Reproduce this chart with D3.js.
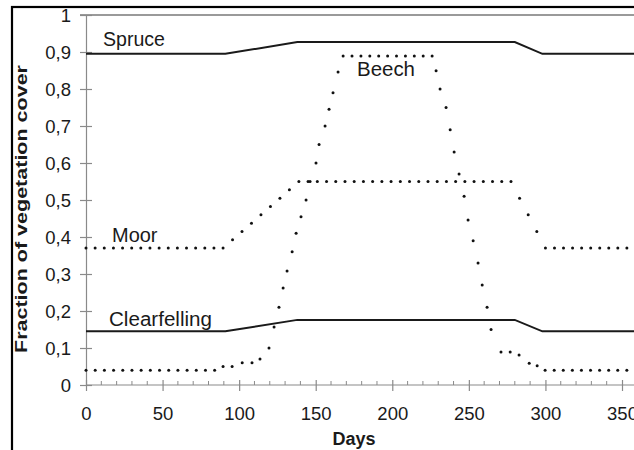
<!DOCTYPE html>
<html>
<head>
<meta charset="utf-8">
<script src="https://cdn.jsdelivr.net/npm/d3@7"></script>
<style>
  html, body { margin: 0; padding: 0; background: #fff; overflow: hidden; }
  svg { display: block; }
  text { font-family: "Liberation Sans", Arial, sans-serif; fill: #1a1a1a; }
</style>
</head>
<body>
<svg id="chart" width="634" height="450"></svg>
<script>
// ---- data (day, fraction of vegetation cover) ----
const spruce = [[0,0.895],[91,0.895],[138,0.927],[280,0.927],[298,0.895],[365,0.895]];
const clearfelling = [[0,0.145],[91,0.145],[138,0.176],[280,0.176],[298,0.145],[365,0.145]];
const moor = [[0,0.37],[89.5,0.37],[139,0.55],[277.5,0.55],[300,0.37],[365,0.37]];
const beech = [
  [0,0.04],[84,0.04],[89.5,0.05],[95.4,0.05],[102,0.06],[108.4,0.06],[113.6,0.07],
  [119.5,0.10],[122.8,0.157],[126,0.21],[128.7,0.262],[131.3,0.308],[134.6,0.36],
  [137.2,0.41],[140.4,0.455],[143.7,0.50],[146.3,0.55],[150.2,0.60],[152.2,0.65],
  [156.1,0.70],[158.7,0.745],[161.3,0.79],[164.6,0.846],[167.9,0.889],[226,0.889],
  [228.6,0.849],[231.2,0.80],[235.1,0.75],[237.8,0.69],[240.4,0.63],[243.6,0.57],
  [246.9,0.51],[249.5,0.446],[252.8,0.39],[256,0.33],[258.7,0.27],[261.9,0.21],
  [264.5,0.15],[271,0.089],[277,0.089],[282.8,0.081],[289.4,0.059],[294.6,0.052],
  [299.8,0.04],[365,0.04]
];
const xTicks = [0,50,100,150,200,250,300,350];
const yTicks = [0,0.1,0.2,0.3,0.4,0.5,0.6,0.7,0.8,0.9,1];
const yTickLabels = ["0","0,1","0,2","0,3","0,4","0,5","0,6","0,7","0,8","0,9","1"];
const seriesLabels = ["Spruce","Beech","Moor","Clearfelling"];
const xTitle = "Days";
const yTitle = "Fraction of vegetation cover";

// ---- layout ----
const svg = d3.select("#chart");
const x = d3.scaleLinear().domain([0, 350]).range([86, 622]);
const y = d3.scaleLinear().domain([0, 1]).range([385, 15]);
const axisGray = "#8a8a8a";

// outer frame (cropped figure: only top and left edges visible)
svg.append("rect").attr("x", 12).attr("y", 7).attr("width", 700).attr("height", 500)
  .attr("fill", "none").attr("stroke", "#000").attr("stroke-width", 2.2);

// top line at 1
svg.append("line").attr("x1", 80).attr("x2", 640).attr("y1", y(1)).attr("y2", y(1))
  .attr("stroke", "#9a9a9a").attr("stroke-width", 2);

// y axis
const yAxis = svg.append("g").attr("transform", `translate(${x(0)},0)`)
  .call(d3.axisLeft(y).tickValues(yTicks).tickSize(0).tickPadding(0)
    .tickFormat((d, i) => yTickLabels[i]));
yAxis.select(".domain").attr("stroke", axisGray).attr("stroke-width", 1.2);
yAxis.selectAll(".tick line").attr("x1", -6).attr("x2", 6).attr("stroke", axisGray).attr("stroke-width", 1.2);
yAxis.selectAll(".tick text").attr("x", -15).attr("dy", "0.33em")
  .attr("font-size", 18.5).attr("font-family", "Liberation Sans, Arial, sans-serif").attr("fill", "#1a1a1a");

// x axis
const xAxis = svg.append("g").attr("transform", `translate(0,${y(0)})`)
  .call(d3.axisBottom(x).tickValues(xTicks).tickSize(0).tickSizeOuter(0).tickFormat(d3.format("d")));
xAxis.select(".domain").attr("d", `M${x(0)},0H660`).attr("stroke", axisGray).attr("stroke-width", 1.2);
xAxis.selectAll(".tick line").attr("y1", -5).attr("y2", 6).attr("stroke", axisGray).attr("stroke-width", 1.2);
xAxis.selectAll(".tick text").attr("y", 35).attr("dy", null)
  .attr("font-size", 18.5).attr("font-family", "Liberation Sans, Arial, sans-serif").attr("fill", "#1a1a1a");
const minor = d3.range(10, 370, 10).filter(d => d % 50 !== 0);
xAxis.selectAll(".minor").data(minor).enter().append("line")
  .attr("x1", d => x(d)).attr("x2", d => x(d)).attr("y1", -4).attr("y2", 0)
  .attr("stroke", axisGray).attr("stroke-width", 1);

// axis titles
svg.append("text").attr("x", x(175)).attr("y", 445).attr("text-anchor", "middle")
  .attr("font-size", 18).attr("font-weight", "bold").text(xTitle);
svg.append("text").attr("transform", "translate(27,209) rotate(-90)").attr("text-anchor", "middle")
  .attr("font-size", 16.5).attr("font-weight", "bold")
  .attr("textLength", 288).attr("lengthAdjust", "spacingAndGlyphs").text(yTitle);

// solid series
const line = d3.line().x(d => x(d[0])).y(d => y(d[1]));
[spruce, clearfelling].forEach(s => {
  svg.append("path").attr("d", line(s)).attr("fill", "none")
    .attr("stroke", "#1a1a1a").attr("stroke-width", 2);
});

// dotted series: a dot at each data point, with a round-dot line style between them
function dotPositions(s) {
  const pts = s.map(d => [x(d[0]), y(d[1])]);
  const out = [];
  for (let i = 0; i < pts.length - 1; i++) {
    const [x0, y0] = pts[i], [x1, y1] = pts[i + 1];
    out.push([x0, y0]);
    const dx = Math.abs(x1 - x0);
    if (dx > 12) {
      const n = Math.round(dx / 9.1);
      for (let k = 1; k < n; k++) out.push([x0 + (x1 - x0) * k / n, y0 + (y1 - y0) * k / n]);
    }
  }
  out.push(pts[pts.length - 1]);
  return out;
}
[moor, beech].forEach(s => {
  svg.append("g").selectAll("circle").data(dotPositions(s)).enter().append("circle")
    .attr("cx", d => d[0]).attr("cy", d => d[1]).attr("r", 1.5).attr("fill", "#111");
});

// series labels
const labelPos = [[103, 46, 62], [357, 76, 58], [112, 242, 45.5], [109, 326, 103]];
seriesLabels.forEach((t, i) => {
  svg.append("text").attr("x", labelPos[i][0]).attr("y", labelPos[i][1])
    .attr("font-size", 19.5).attr("textLength", labelPos[i][2])
    .attr("lengthAdjust", "spacingAndGlyphs").text(t);
});
</script>
</body>
</html>
